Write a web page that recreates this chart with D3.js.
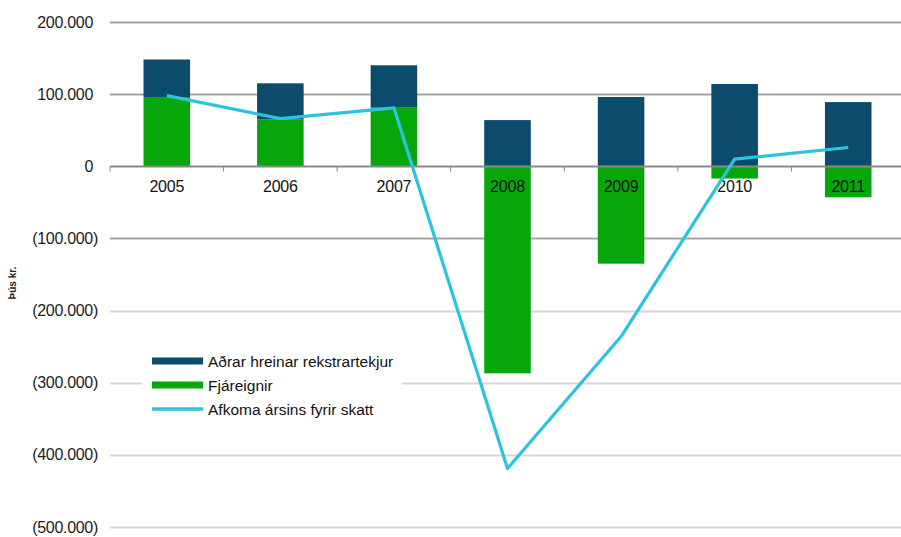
<!DOCTYPE html>
<html>
<head>
<meta charset="utf-8">
<script src="https://cdn.jsdelivr.net/npm/d3@7"></script>
<style>
  html, body { margin: 0; padding: 0; background: #fff; }
  svg { display: block; font-family: "Liberation Sans", Arial, sans-serif; }
</style>
</head>
<body>
<svg id="chart" width="901" height="537"></svg>
<script>
// Years on the category axis
const years = ["2005", "2006", "2007", "2008", "2009", "2010", "2011"];
// Aðrar hreinar rekstrartekjur (þús. kr.)
const otherIncome = [52000, 50000, 58000, 64000, 96000, 114000, 89000];
// Fjáreignir (þús. kr.)
const financialAssets = [96000, 65000, 82000, -287000, -135000, -17000, -43000];
// Afkoma ársins fyrir skatt (þús. kr.)
const profitBeforeTax = [98000, 66000, 81000, -419000, -236000, 10000, 26000];
// Value axis ticks
const yTicks = [200000, 100000, 0, -100000, -200000, -300000, -400000, -500000];
const seriesNames = ["Aðrar hreinar rekstrartekjur", "Fjáreignir", "Afkoma ársins fyrir skatt"];

const colors = { other: "#0c4b6c", assets: "#07a70b", line: "#2cc3dd" };

const svg = d3.select("#chart");

const x = d3.scaleBand().domain(years).range([110, 905]).paddingInner(0.59).paddingOuter(0.295);
const y = d3.scaleLinear().domain([-500000, 200000]).range([527, 22]);

const fmt = v => {
  const s = d3.format(",")(Math.abs(v)).replace(/,/g, ".");
  return v < 0 ? "(" + s + ")" : s;
};

// Horizontal gridlines
svg.append("g").selectAll("line").data(yTicks.filter(d => d !== 0)).join("line")
  .attr("x1", 110).attr("x2", 901)
  .attr("y1", d => Math.round(y(d)) + 0.5).attr("y2", d => Math.round(y(d)) + 0.5)
  .attr("stroke", d => d >= -100000 ? "#a4a4a4" : "#d6d6d6")
  .attr("stroke-width", 2);

// Value axis labels (negative values in parentheses, closing paren hangs right)
svg.append("g").selectAll("text").data(yTicks).join("text")
  .attr("x", d => d < 0 ? 98 : 93).attr("y", d => y(d) + 5.5)
  .attr("text-anchor", "end")
  .attr("font-size", 16).attr("letter-spacing", -0.3)
  .attr("fill", "#222")
  .text(fmt);

// Stacked bars: positive part then negative part
const bars = svg.append("g");
years.forEach((yr, i) => {
  const a = financialAssets[i], o = otherIncome[i];
  const base = a > 0 ? a : 0;
  bars.append("rect")
    .attr("x", x(yr)).attr("width", x.bandwidth())
    .attr("y", y(Math.max(a, 0))).attr("height", Math.abs(y(a) - y(0)))
    .attr("fill", colors.assets);
  bars.append("rect")
    .attr("x", x(yr)).attr("width", x.bandwidth())
    .attr("y", y(base + o)).attr("height", y(base) - y(base + o))
    .attr("fill", colors.other);
});

// Zero axis line with tick marks between categories
const zeroY = Math.round(y(0)) + 0.5;
svg.append("line").attr("x1", 110).attr("x2", 901).attr("y1", zeroY).attr("y2", zeroY)
  .attr("stroke", "#8a8a8a").attr("stroke-width", 2);
const step = x.step();
const bounds = d3.range(years.length).map(i => x(years[i]) - step * x.paddingInner() / 2 - (i === 0 ? step * (x.paddingOuter() - x.paddingInner() / 2) : 0));
svg.append("g").selectAll("line").data(bounds).join("line")
  .attr("x1", d => d).attr("x2", d => d)
  .attr("y1", zeroY).attr("y2", zeroY + 5)
  .attr("stroke", "#8a8a8a").attr("stroke-width", 1);

// Category labels
svg.append("g").selectAll("text").data(years).join("text")
  .attr("x", d => x(d) + x.bandwidth() / 2).attr("y", y(0) + 25.5)
  .attr("text-anchor", "middle")
  .attr("font-size", 16).attr("letter-spacing", -0.2)
  .attr("fill", "#111")
  .text(d => d);

// Profit line
const line = d3.line()
  .x((d, i) => x(years[i]) + x.bandwidth() / 2)
  .y(d => y(d));
svg.append("path").datum(profitBeforeTax)
  .attr("d", line)
  .attr("fill", "none")
  .attr("stroke", colors.line)
  .attr("stroke-width", 3.2)
  .attr("stroke-linejoin", "round");

// Unit label on the value axis
svg.append("text")
  .attr("transform", "translate(16,283) rotate(-90)")
  .attr("text-anchor", "middle")
  .attr("font-size", 10).attr("font-weight", "bold")
  .attr("fill", "#222")
  .text("Þús kr.");

// Legend
const lg = svg.append("g");
lg.append("rect").attr("x", 142).attr("y", 332).attr("width", 260).attr("height", 106).attr("fill", "#fff");
const legendItems = [
  { name: seriesNames[0], color: colors.other, h: 7 },
  { name: seriesNames[1], color: colors.assets, h: 7 },
  { name: seriesNames[2], color: colors.line, h: 3.5 }
];
legendItems.forEach((d, i) => {
  const cy = 361 + i * 24;
  lg.append("rect").attr("x", 152).attr("y", cy - d.h / 2).attr("width", 51).attr("height", d.h).attr("fill", d.color);
  lg.append("text").attr("x", 208).attr("y", cy + 5.5)
    .attr("font-size", 15.5).attr("letter-spacing", 0)
    .attr("fill", "#111")
    .text(d.name);
});
</script>
</body>
</html>
